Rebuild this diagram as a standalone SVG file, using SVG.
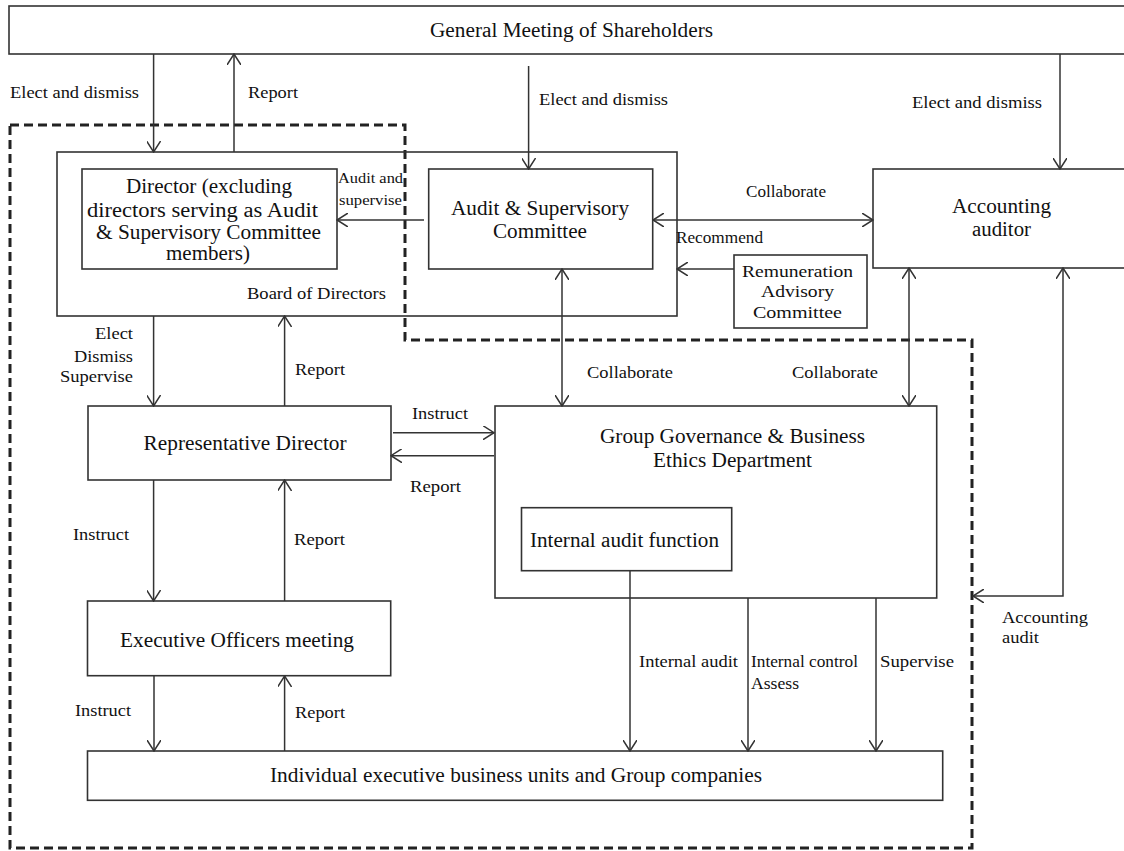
<svg xmlns="http://www.w3.org/2000/svg" width="1124" height="851" viewBox="0 0 1124 851">
<style>
.box{fill:none;stroke:#333;stroke-width:1.6}
.ln{fill:none;stroke:#333;stroke-width:1.5}
.dash{fill:none;stroke:#222;stroke-width:3;stroke-dasharray:9 5}
text{font-family:"Liberation Serif","Times New Roman",serif;fill:#111}
.t{font-size:20px}
.s{font-size:16.5px}
.xs{font-size:14px}
</style>
<defs>
<marker id="a" viewBox="0 0 12 14" refX="11" refY="7" markerWidth="12" markerHeight="14" markerUnits="userSpaceOnUse" orient="auto-start-reverse">
<path d="M0,0 L11,7 L0,14" fill="none" stroke="#333" stroke-width="1.5"/>
</marker>
</defs>
<rect width="1124" height="851" fill="#fff"/>

<path class="dash" d="M10,125 H405 V340 H972 V848 H10 Z"/>

<g id="gms">
<rect class="box" x="9" y="6" width="1120" height="48"/>
<text class="t" x="430" y="37" textLength="283" lengthAdjust="spacingAndGlyphs">General Meeting of Shareholders</text>
</g>

<g id="board">
<rect class="box" x="57" y="152" width="620" height="164"/>
<text class="s" x="247" y="299" textLength="139" lengthAdjust="spacingAndGlyphs">Board of Directors</text>
</g>

<g id="director">
<rect class="box" x="82" y="169" width="255" height="100"/>
<text class="t" x="126" y="193" textLength="166" lengthAdjust="spacingAndGlyphs">Director (excluding</text>
<text class="t" x="87" y="217" textLength="231" lengthAdjust="spacingAndGlyphs">directors serving as Audit</text>
<text class="t" x="96" y="239" textLength="225" lengthAdjust="spacingAndGlyphs">&amp; Supervisory Committee</text>
<text class="t" x="166" y="260" textLength="84" lengthAdjust="spacingAndGlyphs">members)</text>
</g>

<g id="audit-committee">
<rect class="box" x="428.7" y="169" width="224" height="100"/>
<text class="t" x="451" y="215" textLength="178" lengthAdjust="spacingAndGlyphs">Audit &amp; Supervisory</text>
<text class="t" x="493" y="238" textLength="94" lengthAdjust="spacingAndGlyphs">Committee</text>
</g>

<g id="remuneration">
<rect class="box" x="734" y="255" width="133" height="73"/>
<text class="s" font-size="18" x="742" y="277" textLength="111" lengthAdjust="spacingAndGlyphs">Remuneration</text>
<text class="s" font-size="18" x="761" y="297" textLength="73" lengthAdjust="spacingAndGlyphs">Advisory</text>
<text class="s" font-size="18" x="753" y="318" textLength="89" lengthAdjust="spacingAndGlyphs">Committee</text>
</g>

<g id="accounting-auditor">
<rect class="box" x="873" y="169" width="260" height="99"/>
<text class="t" x="952" y="213" textLength="99" lengthAdjust="spacingAndGlyphs">Accounting</text>
<text class="t" x="972" y="236" textLength="59" lengthAdjust="spacingAndGlyphs">auditor</text>
</g>

<g id="rep-director">
<rect class="box" x="88" y="406" width="303" height="74"/>
<text class="t" x="143.6" y="450" textLength="203" lengthAdjust="spacingAndGlyphs">Representative Director</text>
</g>

<g id="ggbe">
<rect class="box" x="495" y="406" width="441.7" height="192"/>
<text class="t" x="600" y="443" textLength="265" lengthAdjust="spacingAndGlyphs">Group Governance &amp; Business</text>
<text class="t" x="653" y="467" textLength="159" lengthAdjust="spacingAndGlyphs">Ethics Department</text>
</g>

<g id="internal-audit">
<rect class="box" x="521.5" y="507.7" width="210.2" height="63"/>
<text class="t" x="530" y="547" textLength="189" lengthAdjust="spacingAndGlyphs">Internal audit function</text>
</g>

<g id="exec-officers">
<rect class="box" x="87.5" y="601" width="303.2" height="74.7"/>
<text class="t" x="120" y="647" textLength="234" lengthAdjust="spacingAndGlyphs">Executive Officers meeting</text>
</g>

<g id="business-units">
<rect class="box" x="87.5" y="751" width="855.2" height="49.3"/>
<text class="t" x="270" y="782" textLength="492" lengthAdjust="spacingAndGlyphs">Individual executive business units and Group companies</text>
</g>

<g id="connectors">
<line class="ln" x1="153.6" y1="54" x2="153.6" y2="152" marker-end="url(#a)"/>
<line class="ln" x1="234" y1="152" x2="234" y2="54" marker-end="url(#a)"/>
<line class="ln" x1="528.6" y1="66" x2="528.6" y2="169" marker-end="url(#a)"/>
<line class="ln" x1="1060" y1="54" x2="1060" y2="169" marker-end="url(#a)"/>
<line class="ln" x1="424" y1="220" x2="337" y2="220" marker-end="url(#a)"/>
<line class="ln" x1="653" y1="220" x2="873" y2="220" marker-start="url(#a)" marker-end="url(#a)"/>
<line class="ln" x1="734" y1="269" x2="677" y2="269" marker-end="url(#a)"/>
<line class="ln" x1="562" y1="269" x2="562" y2="406" marker-start="url(#a)" marker-end="url(#a)"/>
<line class="ln" x1="909" y1="268" x2="909" y2="406" marker-start="url(#a)" marker-end="url(#a)"/>
<path class="ln" d="M1063,268 V596 H973" marker-start="url(#a)" marker-end="url(#a)"/>
<line class="ln" x1="153.6" y1="316" x2="153.6" y2="406" marker-end="url(#a)"/>
<line class="ln" x1="284.6" y1="406" x2="284.6" y2="316" marker-end="url(#a)"/>
<line class="ln" x1="393" y1="432.7" x2="494" y2="432.7" marker-end="url(#a)"/>
<line class="ln" x1="494" y1="455.7" x2="391" y2="455.7" marker-end="url(#a)"/>
<line class="ln" x1="153.6" y1="480" x2="153.6" y2="601" marker-end="url(#a)"/>
<line class="ln" x1="284.6" y1="601" x2="284.6" y2="480" marker-end="url(#a)"/>
<line class="ln" x1="154" y1="676" x2="154" y2="751" marker-end="url(#a)"/>
<line class="ln" x1="284.6" y1="751" x2="284.6" y2="676" marker-end="url(#a)"/>
<line class="ln" x1="630" y1="571" x2="630" y2="751" marker-end="url(#a)"/>
<line class="ln" x1="748" y1="598" x2="748" y2="751" marker-end="url(#a)"/>
<line class="ln" x1="876" y1="598" x2="876" y2="751" marker-end="url(#a)"/>
</g>

<g id="labels">
<text class="s" x="10" y="98" textLength="129" lengthAdjust="spacingAndGlyphs">Elect and dismiss</text>
<text class="s" x="248" y="98" textLength="50" lengthAdjust="spacingAndGlyphs">Report</text>
<text class="s" x="539" y="105" textLength="129" lengthAdjust="spacingAndGlyphs">Elect and dismiss</text>
<text class="s" x="912" y="108" textLength="130" lengthAdjust="spacingAndGlyphs">Elect and dismiss</text>
<text class="xs" x="338" y="183" textLength="65" lengthAdjust="spacingAndGlyphs">Audit and</text>
<text class="xs" x="339" y="205" textLength="63" lengthAdjust="spacingAndGlyphs">supervise</text>
<text class="s" font-size="15" x="746" y="197" textLength="80" lengthAdjust="spacingAndGlyphs">Collaborate</text>
<text class="s" font-size="15" x="676" y="243" textLength="87" lengthAdjust="spacingAndGlyphs">Recommend</text>
<text class="s" x="95" y="339" textLength="38" lengthAdjust="spacingAndGlyphs">Elect</text>
<text class="s" x="74" y="362" textLength="59" lengthAdjust="spacingAndGlyphs">Dismiss</text>
<text class="s" x="60" y="382" textLength="73" lengthAdjust="spacingAndGlyphs">Supervise</text>
<text class="s" x="295" y="375" textLength="50" lengthAdjust="spacingAndGlyphs">Report</text>
<text class="s" x="587" y="378" textLength="86" lengthAdjust="spacingAndGlyphs">Collaborate</text>
<text class="s" x="792" y="378" textLength="86" lengthAdjust="spacingAndGlyphs">Collaborate</text>
<text class="s" x="412" y="419" textLength="56" lengthAdjust="spacingAndGlyphs">Instruct</text>
<text class="s" x="410" y="492" textLength="51" lengthAdjust="spacingAndGlyphs">Report</text>
<text class="s" x="73" y="540" textLength="56" lengthAdjust="spacingAndGlyphs">Instruct</text>
<text class="s" x="294" y="545" textLength="51" lengthAdjust="spacingAndGlyphs">Report</text>
<text class="s" x="1002" y="623" textLength="86" lengthAdjust="spacingAndGlyphs">Accounting</text>
<text class="s" x="1002" y="643" textLength="37" lengthAdjust="spacingAndGlyphs">audit</text>
<text class="s" font-size="15" x="639" y="667" textLength="99" lengthAdjust="spacingAndGlyphs">Internal audit</text>
<text class="s" font-size="15" x="751" y="667" textLength="107" lengthAdjust="spacingAndGlyphs">Internal control</text>
<text class="s" font-size="15" x="751" y="689" textLength="48" lengthAdjust="spacingAndGlyphs">Assess</text>
<text class="s" font-size="15" x="880" y="667" textLength="74" lengthAdjust="spacingAndGlyphs">Supervise</text>
<text class="s" x="75" y="716" textLength="56" lengthAdjust="spacingAndGlyphs">Instruct</text>
<text class="s" x="295" y="718" textLength="50" lengthAdjust="spacingAndGlyphs">Report</text>
</g>
</svg>
